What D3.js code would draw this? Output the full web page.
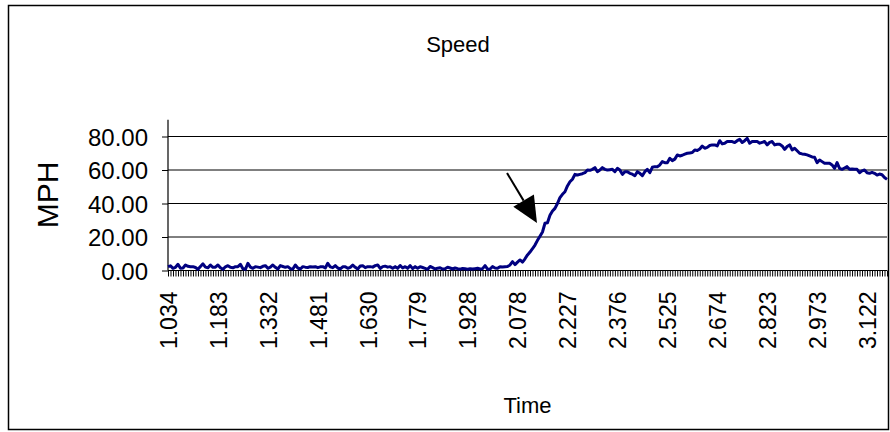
<!DOCTYPE html>
<html lang="en">
<head>
<meta charset="UTF-8">
<title>Speed</title>
<style>
  body { margin: 0; background: #fff; }
  svg text { font-family: Arial, "Liberation Sans", sans-serif; fill: #000; }
</style>
</head>
<body>
<svg id="chart" width="890" height="432"></svg>
<script src="https://d3js.org/d3.v7.min.js"></script>
<script>
// speed readings (MPH), one per time sample
var speed = [
  2.3, 2.8, 1.3, 1.9, 3.7, 1.3, 1.5, 3.3, 2.5, 2.2, 2.3, 1.8, 0.7, 2.4, 4.0, 2.0, 1.6, 3.3, 1.9, 2.0,
  3.3, 1.6, 0.7, 2.2, 2.9, 1.9, 1.6, 2.3, 2.3, 3.7, 1.0, 0.7, 4.3, 2.0, 1.3, 2.3, 2.0, 1.7, 2.5, 2.9,
  1.3, 2.0, 3.3, 1.9, 0.9, 2.9, 2.4, 1.9, 2.3, 1.1, 0.9, 3.3, 1.5, 0.9, 2.3, 2.0, 1.8, 2.3, 2.1, 2.3,
  1.7, 2.2, 2.3, 1.5, 4.3, 2.2, 1.7, 2.9, 1.5, 0.9, 2.2, 2.3, 1.3, 1.9, 3.3, 1.9, 0.9, 2.7, 2.9, 1.7,
  2.3, 2.3, 2.0, 2.9, 3.3, 1.2, 2.3, 2.6, 2.0, 2.3, 1.3, 2.3, 1.3, 3.0, 1.5, 2.3, 1.3, 2.9, 1.1, 2.3,
  1.3, 2.3, 1.8, 1.3, 0.7, 2.4, 1.7, 0.9, 1.4, 1.6, 0.9, 1.0, 1.9, 1.5, 0.9, 1.5, 1.1, 0.8, 1.2, 1.0,
  0.8, 1.1, 0.9, 1.1, 1.3, 0.9, 1.1, 2.9, 0.8, 0.9, 2.3, 1.5, 1.3, 2.3, 2.1, 2.3, 2.4, 3.3, 5.3, 3.5,
  5.0, 6.3, 5.0, 7.0, 9.3, 11.0, 13.0, 15.2, 18.0, 20.5, 23.0, 28.2, 28.5, 33.0, 35.5, 37.1, 40.0, 43.5, 45.5, 47.0,
  50.5, 53.0, 54.5, 57.4, 57.0, 57.4, 57.8, 58.4, 60.0, 59.8, 60.4, 61.4, 59.0, 60.0, 61.4, 60.4, 60.0, 60.2, 60.4, 59.0,
  61.0, 60.0, 57.4, 59.0, 59.0, 58.0, 57.5, 56.6, 59.0, 58.0, 56.6, 59.0, 60.4, 58.4, 61.6, 62.0, 62.0, 63.0, 65.0, 64.4,
  64.4, 67.0, 65.6, 66.5, 69.0, 68.4, 68.8, 69.5, 70.0, 70.2, 70.4, 72.0, 71.6, 72.5, 74.3, 73.0, 73.5, 74.6, 75.0, 75.0,
  74.4, 77.5, 75.6, 76.0, 77.0, 77.0, 77.0, 76.4, 77.5, 78.3, 76.4, 77.5, 78.9, 76.0, 77.0, 77.0, 77.0, 76.0, 76.5, 77.0,
  75.0, 76.5, 77.0, 75.0, 75.4, 75.4, 74.4, 72.3, 74.0, 75.0, 72.0, 73.0, 71.5, 70.0, 69.6, 69.4, 69.0, 68.4, 67.8, 67.6,
  64.4, 66.0, 65.0, 64.0, 64.0, 64.0, 63.0, 61.0, 64.4, 61.0, 60.4, 61.2, 62.0, 60.4, 60.6, 60.4, 60.4, 58.4, 59.5, 60.0,
  58.4, 58.0, 58.6, 58.0, 57.0, 57.6, 57.2, 55.5, 54.4
];

// time labels shown on the category axis (every 20th sample)
var timeLabels = ["1.034", "1.183", "1.332", "1.481", "1.630", "1.779", "1.928", "2.078",
                  "2.227", "2.376", "2.525", "2.674", "2.823", "2.973", "3.122"];
var labelEvery = 20;

var yTicks = [0, 20, 40, 60, 80];
var yMax = 90;

// annotation arrow, in data units (sample index, MPH)
var arrowTail = { i: 135.8, v: 58.2 };
var arrowTip = { i: 147.8, v: 28.4 };

var svg = d3.select("#chart");
var plot = { left: 168, right: 887, top: 119.75, bottom: 270.5 };

var x = d3.scalePoint()
    .domain(d3.range(speed.length))
    .range([plot.left, plot.right]);

var y = d3.scaleLinear()
    .domain([0, yMax])
    .range([plot.bottom, plot.top]);

// chart area border
svg.append("rect")
    .attr("x", 8.5).attr("y", 5.5)
    .attr("width", 880).attr("height", 424)
    .attr("fill", "#fff").attr("stroke", "#000").attr("stroke-width", 1.5);

// gridlines
svg.append("g")
    .selectAll("line")
    .data(yTicks.filter(function(d) { return d > 0; }))
    .enter().append("line")
    .attr("x1", plot.left).attr("x2", plot.right)
    .attr("y1", function(d) { return y(d); })
    .attr("y2", function(d) { return y(d); })
    .attr("stroke", "#000").attr("stroke-width", 1);

// y axis
var yAxis = svg.append("g")
    .attr("transform", "translate(" + plot.left + ",0)")
    .call(d3.axisLeft(y).tickValues(yTicks).tickFormat(d3.format(".2f")).tickSize(6).tickPadding(14));
yAxis.select(".domain").attr("d", "M0," + plot.top + "V" + plot.bottom).attr("stroke-width", 1.2);
yAxis.selectAll("text")
    .style("font-size", "24px")
    .attr("dy", "0.36em");

// x axis: a tick per sample, label every 20th
var xAxis = svg.append("g")
    .attr("transform", "translate(0," + plot.bottom + ")")
    .call(d3.axisBottom(x)
        .tickSize(6)
        .tickFormat(function(d) {
            return d % labelEvery === 0 ? (timeLabels[d / labelEvery] || "") : "";
        }));
xAxis.select(".domain").attr("d", "M" + plot.left + ",0H" + plot.right).attr("stroke-width", 1.2);
xAxis.selectAll(".tick line").attr("stroke-width", 1);
xAxis.selectAll("text")
    .style("font-size", "23px")
    .attr("text-anchor", "end")
    .attr("transform", "rotate(-90)")
    .attr("x", -21)
    .attr("y", 0)
    .attr("dy", "0.36em");

// speed line
var line = d3.line()
    .x(function(d, i) { return x(i); })
    .y(function(d) { return y(d); });

svg.append("path")
    .datum(speed)
    .attr("d", line)
    .attr("fill", "none")
    .attr("stroke", "#000080")
    .attr("stroke-width", 3)
    .attr("stroke-linejoin", "round");

// arrow annotation
var tx = x(0) + (x(1) - x(0)) * arrowTail.i, ty = y(arrowTail.v);
var hx = x(0) + (x(1) - x(0)) * arrowTip.i, hy = y(arrowTip.v);
var dx = hx - tx, dy = hy - ty, len = Math.sqrt(dx * dx + dy * dy);
var ux = dx / len, uy = dy / len;
var headLen = 26, headHalf = 12;
var bx = hx - ux * headLen, by = hy - uy * headLen;

svg.append("line")
    .attr("x1", tx).attr("y1", ty).attr("x2", bx).attr("y2", by)
    .attr("stroke", "#000").attr("stroke-width", 2);

svg.append("path")
    .attr("d", "M" + hx + "," + hy +
        "L" + (bx - uy * headHalf) + "," + (by + ux * headHalf) +
        "L" + (bx + uy * headHalf) + "," + (by - ux * headHalf) + "Z")
    .attr("fill", "#000");

// titles
svg.append("text")
    .attr("x", 458).attr("y", 52)
    .attr("text-anchor", "middle")
    .style("font-size", "22px")
    .text("Speed");

svg.append("text")
    .attr("x", (plot.left + plot.right) / 2).attr("y", 413)
    .attr("text-anchor", "middle")
    .style("font-size", "22px")
    .text("Time");

svg.append("text")
    .attr("transform", "translate(58," + 195 + ") rotate(-90)")
    .attr("text-anchor", "middle")
    .style("font-size", "30px")
    .text("MPH");
</script>
</body>
</html>
